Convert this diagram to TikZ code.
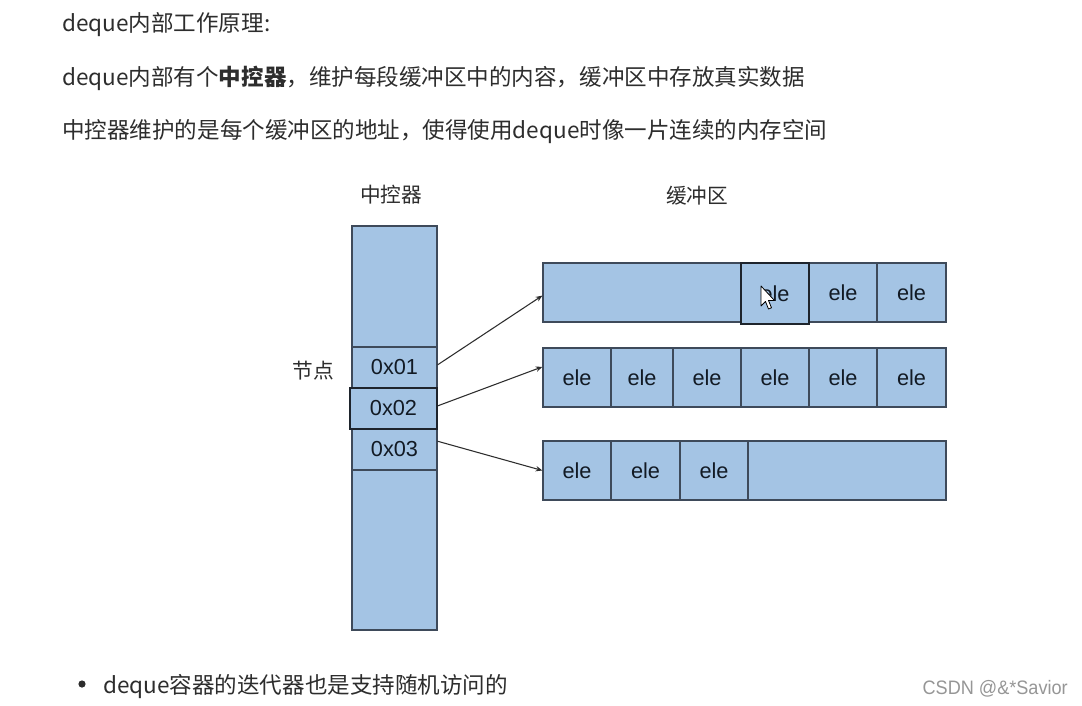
\documentclass[tikz,border=0pt]{standalone}
\usepackage{fontspec}
\setmainfont{Liberation Sans}
\newfontfamily\cjk{Noto Sans CJK SC}
\usetikzlibrary{arrows.meta}
\definecolor{cellfill}{RGB}{164,196,228}
\definecolor{cellline}{RGB}{62,74,90}
\definecolor{seldark}{RGB}{30,36,44}
\definecolor{txt}{RGB}{45,45,45}
\definecolor{celltxt}{RGB}{18,26,36}
\definecolor{wm}{RGB}{150,150,150}
\begin{document}
\begin{tikzpicture}[x=0.75pt,y=-0.75pt,
  para/.style={anchor=base west,inner sep=0pt,text=txt,font=\cjk\fontsize{16.9pt}{20pt}\selectfont},
  lbl/.style={inner sep=0pt,text=txt,font=\cjk\fontsize{15.5pt}{18pt}\selectfont},
  cell/.style={draw=cellline,line width=0.9pt,fill=cellfill,inner sep=0pt,text=celltxt,
    font=\fontsize{16.3pt}{18pt}\selectfont,minimum height=44.25pt},
  ccell/.style={cell,minimum width=63.75pt,minimum height=30.75pt},
  selcell/.style={cell,draw=seldark,line width=1.3pt},
  link/.style={draw=txt,line width=0.8pt,-{Stealth[length=5pt,width=4pt]}}]
\useasboundingbox (0,0) rectangle (1082,706);
\fill[white] (0,0) rectangle (1082,706);
% text
\node[para] (t1) at (62,32) {deque内部工作原理:};
\node[para] (t2) at (62,86) {deque内部有个\textbf{中控器}，维护每段缓冲区中的内容，缓冲区中存放真实数据};
\node[para] (t3) at (62,139) {中控器维护的是每个缓冲区的地址，使得使用deque时像一片连续的内存空间};
% labels
\node[lbl] (lc) at (391,195) {中控器};
\node[lbl] (lb) at (697,196) {缓冲区};
\node[lbl] (ln) at (313,371) {节点};
% controller
\node[ccell,minimum height=90.75pt] (ctop) at (394.5,286.5) {};
\node[ccell] (c1) at (394.5,367.5) {0x01};
\node[ccell] (c3) at (394.5,449.5) {0x03};
\node[ccell,minimum height=120pt] (cbot) at (394.5,550) {};
\node[ccell,draw=seldark,line width=1.2pt,minimum width=65.25pt] (c2) at (393.5,408.5) {0x02};
% buffer 1
\node[cell,minimum width=148.5pt] (a0) at (642,292.5) {};
\node[cell,minimum width=51pt] (a2) at (843,292.5) {ele};
\node[cell,minimum width=51.75pt] (a3) at (911.5,292.5) {ele};
\node[selcell,minimum width=51pt,minimum height=45.5pt] (a1) at (775,293.5) {ele};
% buffer 2
\node[cell,minimum width=51pt] (b0) at (577,377.5) {ele};
\node[cell,minimum width=46.5pt] (b1) at (642,377.5) {ele};
\node[cell,minimum width=51pt] (b2) at (707,377.5) {ele};
\node[cell,minimum width=51pt] (b3) at (775,377.5) {ele};
\node[cell,minimum width=51pt] (b4) at (843,377.5) {ele};
\node[cell,minimum width=51.75pt] (b5) at (911.5,377.5) {ele};
% buffer 3
\node[cell,minimum width=51pt] (d0) at (577,470.5) {ele};
\node[cell,minimum width=51.75pt] (d1) at (645.5,470.5) {ele};
\node[cell,minimum width=51pt] (d2) at (714,470.5) {ele};
\node[cell,minimum width=148.5pt] (d3) at (847,470.5) {};
% connectors
\draw[link] ([yshift=2pt]c1.east) -- ([yshift=-2.3pt]a0.west);
\draw[link] ([yshift=2pt]c2.east) -- ([yshift=8pt]b0.west);
\draw[link] ([yshift=6.2pt]c3.east) -- (d0.west);
% mouse cursor
\draw[fill=white,draw=black,line width=0.6pt,line join=round]
  (761,286) -- (761,306) -- (765.5,301.5) -- (768.5,309) -- (771.5,307.8) -- (768.5,300.5) -- (774.5,300.5) -- cycle;
% bullet line
\fill[txt] (82,684) circle (3.6);
\node[para] (t4) at (103,693) {deque容器的迭代器也是支持随机访问的};
\node[anchor=base east,inner sep=0pt,text=wm,xscale=0.93,font=\fontsize{14.6pt}{16pt}\selectfont] (w) at (1068,694) {CSDN @\&*Savior};
\end{tikzpicture}
\end{document}
